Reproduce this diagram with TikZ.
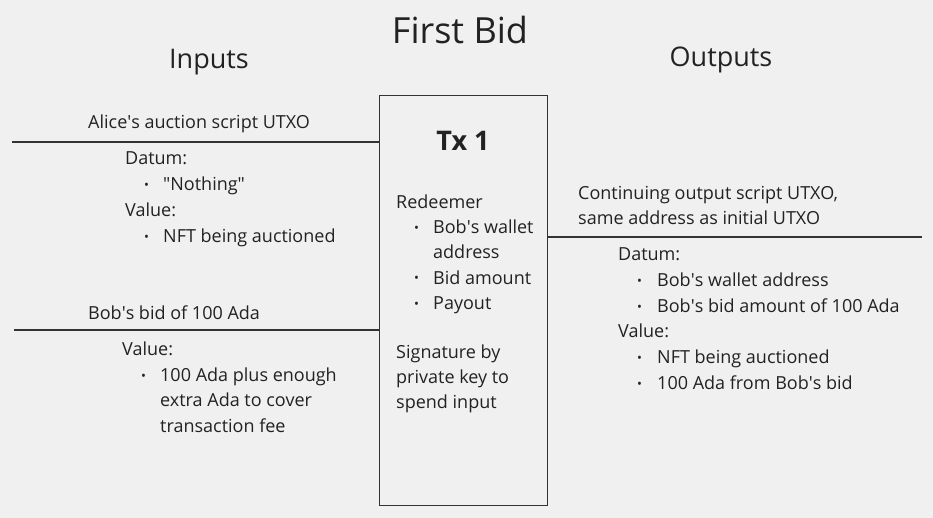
\documentclass[tikz,border=0pt]{standalone}
\usepackage{fontspec}
\setmainfont{Open Sans}
\newcommand{\sq}{\textquotesingle}
\newcommand{\dq}{\textquotedbl}
\begin{document}
\begin{tikzpicture}[x=1pt,y=-1pt,
  txt/.style={anchor=base west,inner sep=0pt,text=textc,font=\fontsize{18}{22}\selectfont},
  bul/.style={anchor=base west,inner sep=0pt,text=textc,font=\fontsize{13}{15}\selectfont},
  head/.style={anchor=base,inner sep=0pt,text=textc,font=\fontsize{27}{32}\selectfont},
  wire/.style={draw=linec,line width=1.2pt}]
\definecolor{bg}{HTML}{F0F0F0}
\definecolor{textc}{HTML}{222222}
\definecolor{linec}{HTML}{333333}
\fill[bg] (0,0) rectangle (933,518);
\useasboundingbox (0,0) rectangle (933,518);
% titles
\node[head,font=\fontsize{36}{42}\selectfont] (title) at (460,44) {First Bid};
\node[head] (inputs) at (209,69) {Inputs};
\node[head] (outputs) at (721,67) {Outputs};
% Tx box
\node[draw=linec,line width=1.2pt,minimum width=168pt,minimum height=410pt,inner sep=0pt,anchor=north west] (tx) at (379,95) {};
\node[anchor=base,inner sep=0pt,text=textc,font=\fontsize{27}{32}\bfseries] (txt1) at (463,151) {Tx 1};
% wires
\coordinate (inA) at (12,142);
\coordinate (inB) at (14,330);
\coordinate (outA) at (922,237);
\draw[wire] (inA) -- (tx.west |- inA);
\draw[wire] (inB) -- (tx.west |- inB);
\draw[wire] (tx.east |- outA) -- (outA);
% Input A
\node[txt] (a0) at (88,129) {Alice\sq s auction script UTXO};
\node[txt] (a1) at (125,165) {Datum:};
\node[bul] (a2b) at (144,190) {•};
\node[txt] (a2) at (163,191) {\dq Nothing\dq};
\node[txt] (a3) at (125,217) {Value:};
\node[bul] (a4b) at (144,242) {•};
\node[txt] (a4) at (163,243) {NFT being auctioned};
% Input B
\node[txt] (b0) at (88,319) {Bob\sq s bid of 100 Ada};
\node[txt] (b1) at (122,355) {Value:};
\node[bul] (b2b) at (141,380) {•};
\node[txt] (b2) at (160,381) {100 Ada plus enough};
\node[txt] (b3) at (160,406) {extra Ada to cover};
\node[txt] (b4) at (160,432) {transaction fee};
% Tx contents
\node[txt] (r0) at (396,209) {Redeemer};
\node[bul] (r1b) at (414,233) {•};
\node[txt] (r1) at (433,234) {Bob\sq s wallet};
\node[txt] (r2) at (433,259) {address};
\node[bul] (r3b) at (414,283) {•};
\node[txt] (r3) at (433,284) {Bid amount};
\node[bul] (r4b) at (414,308) {•};
\node[txt] (r4) at (433,309) {Payout};
\node[txt] (s0) at (396,358) {Signature by};
\node[txt] (s1) at (396,383) {private key to};
\node[txt] (s2) at (396,408) {spend input};
% Output
\node[txt] (o0) at (578,200) {Continuing output script UTXO,};
\node[txt] (o1) at (578,225) {same address as initial UTXO};
\node[txt] (o2) at (618,261) {Datum:};
\node[bul] (o3b) at (637,286) {•};
\node[txt] (o3) at (657,287) {Bob\sq s wallet address};
\node[bul] (o4b) at (637,311) {•};
\node[txt] (o4) at (657,312) {Bob\sq s bid amount of 100 Ada};
\node[txt] (o5) at (618,337) {Value:};
\node[bul] (o6b) at (637,362) {•};
\node[txt] (o6) at (657,363) {NFT being auctioned};
\node[bul] (o7b) at (637,388) {•};
\node[txt] (o7) at (657,389) {100 Ada from Bob\sq s bid};
\end{tikzpicture}
\end{document}
